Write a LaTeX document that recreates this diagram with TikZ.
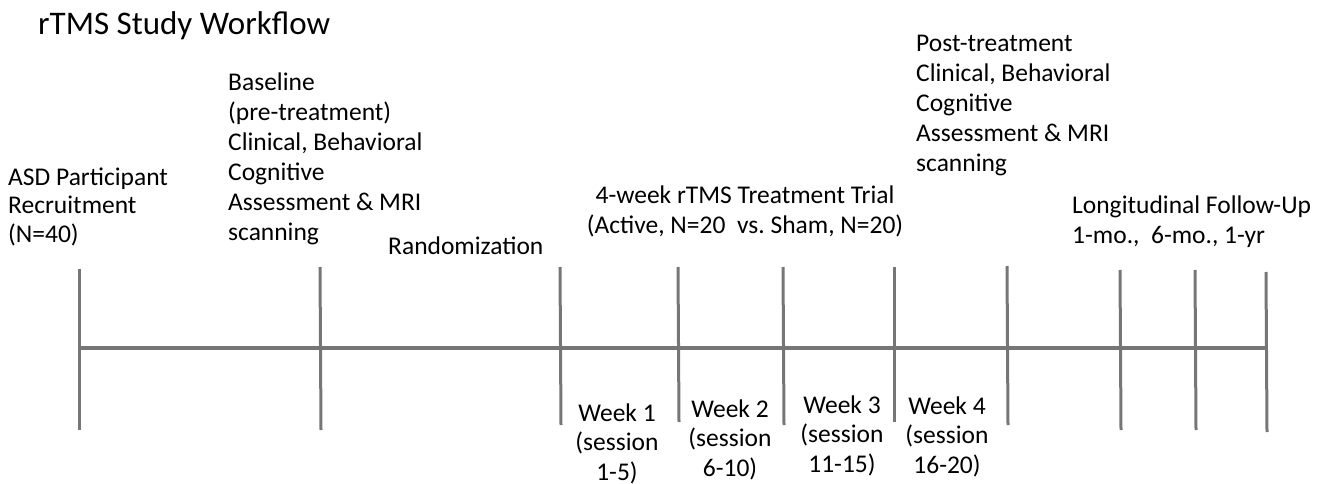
\documentclass[tikz,border=0pt]{standalone}
\usepackage{fontspec}
\setmainfont{Carlito}
\definecolor{linegray}{RGB}{118,118,118}
\begin{document}
\begin{tikzpicture}[x=1pt,y=-1pt,
  lbl/.style={inner sep=0pt, anchor=base west, font=\fontsize{25.5}{30}\selectfont, text=black},
  clbl/.style={inner sep=0pt, anchor=base, font=\fontsize{25.5}{29.5}\selectfont, text=black},
  tickline/.style={draw=linegray, line width=3pt},
  axisline/.style={draw=linegray, line width=4pt}]
\useasboundingbox (0,0) rectangle (1325,484);

% title
\node[inner sep=0pt, anchor=base west, font=\fontsize{33}{36}\selectfont] (title) at (38,35) {rTMS Study Workflow};

% upper labels
\node[lbl, font=\fontsize{25.5}{28.5}\selectfont] (asd) at (8,185)
  {\parbox[t]{7cm}{\raggedright ASD Participant\\Recruitment\\(N=40)}};
\node[lbl] (base) at (228,91)
  {\parbox[t]{8cm}{\raggedright Baseline\\(pre-treatment)\\Clinical, Behavioral\\Cognitive\\Assessment \& MRI\\scanning}};
\node[lbl] (rand) at (388,254) {Randomization};
\node[clbl, font=\fontsize{25.5}{30}\selectfont] (trial) at (745,203)
  {\parbox[t]{12cm}{\centering 4-week rTMS Treatment Trial\\(Active, N=20\ \ vs.\ Sham, N=20)}};
\node[lbl] (post) at (916,52)
  {\parbox[t]{8cm}{\raggedright Post-treatment\\Clinical, Behavioral\\Cognitive\\Assessment \& MRI\\scanning}};
\node[lbl] (long) at (1072,213)
  {\parbox[t]{9cm}{\raggedright Longitudinal Follow-Up\\1-mo.,\ \ 6-mo., 1-yr}};

% week labels
\node[clbl] (w1) at (617,421) {\parbox[t]{4cm}{\centering Week 1\\(session\\1-5)}};
\node[clbl] (w2) at (730,417) {\parbox[t]{4cm}{\centering Week 2\\(session\\6-10)}};
\node[clbl] (w3) at (842,413) {\parbox[t]{4cm}{\centering Week 3\\(session\\11-15)}};
\node[clbl] (w4) at (947,414) {\parbox[t]{4cm}{\centering Week 4\\(session\\16-20)}};

% timeline
\coordinate (h0) at (79,348);
\coordinate (h1) at (1266,348);
\draw[axisline] (h0) -- (h1);

\coordinate (t1a) at (79,269);   \coordinate (t1b) at (79,430);
\coordinate (t2a) at (320,267);  \coordinate (t2b) at (321,430);
\coordinate (t3a) at (560,267);  \coordinate (t3b) at (561,425);
\coordinate (t4a) at (678,267);  \coordinate (t4b) at (679,422);
\coordinate (t5a) at (783,267);  \coordinate (t5b) at (784,425);
\coordinate (t6a) at (894,267);  \coordinate (t6b) at (894,422);
\coordinate (t7a) at (1007,266); \coordinate (t7b) at (1008,425);
\coordinate (t8a) at (1120,270); \coordinate (t8b) at (1121,430);
\coordinate (t9a) at (1195,270); \coordinate (t9b) at (1196,430);
\coordinate (t10a) at (1266,272); \coordinate (t10b) at (1267,432);
\foreach \i in {1,...,10} { \draw[tickline] (t\i a) -- (t\i b); }
\end{tikzpicture}
\end{document}
